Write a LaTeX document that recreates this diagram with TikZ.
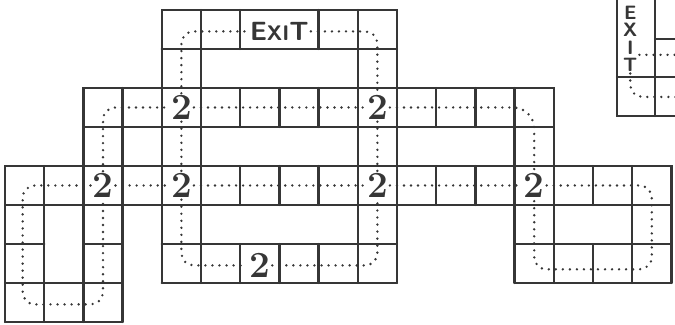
\documentclass[tikz,border=0pt]{standalone}
\usepackage{tikz}
\usepackage{xcolor}
\usetikzlibrary{positioning}
\definecolor{pencil}{HTML}{363636}

\tikzset{
  wall/.style={line width=1.3pt, pencil, line cap=round},
  trail/.style={line width=1.5pt, pencil, line cap=round, dash pattern=on 0pt off 4pt, rounded corners=7pt},
  two/.style={inner sep=1pt, text=pencil, font=\bfseries\fontsize{21}{21}\selectfont},
  exitsign/.style={inner sep=1pt, text=pencil, font=\sffamily\bfseries\fontsize{15}{15}\selectfont}
}

\begin{document}
\begin{tikzpicture}[x=0.784cm,y=-0.78cm]
\useasboundingbox (-0.128,-0.256) rectangle (17.092,8.077);

% top room
\draw[wall] (4,0) rectangle (10,2);
\draw[wall] (4,1)--(10,1);
\foreach \c in {5,6,8,9} \draw[wall] (\c,0)--(\c,1);
\draw[wall] (5,1)--(5,2);
\draw[wall] (9,1)--(9,2);

% second corridor
\draw[wall] (2,2) rectangle (14,3);
\foreach \c in {3,...,13} \draw[wall] (\c,2)--(\c,3);
\foreach \c in {2,3,4,5,9,10,13,14} \draw[wall] (\c,3)--(\c,4);

% long corridor
\draw[wall] (0,4) rectangle (17,5);
\foreach \c in {1,...,16} \draw[wall] (\c,4)--(\c,5);

% left block
\foreach \c in {0,...,3} \draw[wall] (\c,5)--(\c,8);
\draw[wall] (0,6)--(1,6);
\draw[wall] (2,6)--(3,6);
\draw[wall] (0,7)--(3,7);
\draw[wall] (0,8)--(3,8);

% middle room
\foreach \c in {4,5,9,10} \draw[wall] (\c,5)--(\c,7);
\foreach \c in {6,7,8} \draw[wall] (\c,6)--(\c,7);
\draw[wall] (4,6)--(10,6);
\draw[wall] (4,7)--(10,7);

% right block
\foreach \c in {13,14,16,17} \draw[wall] (\c,5)--(\c,7);
\draw[wall] (15,6)--(15,7);
\draw[wall] (13,6)--(17,6);
\draw[wall] (13,7)--(17,7);

% corner of the next board
\draw[wall] (15.61,-0.3)--(15.61,2.72)--(17.2,2.72);
\draw[wall] (16.58,-0.3)--(16.58,2.72);
\draw[wall] (16.58,0.74)--(17.2,0.74);
\draw[wall] (15.61,1.72)--(17.2,1.72);

\node[exitsign] (exitT) at (7,0.55) {E{\fontsize{12}{12}\selectfont XI}T};
\node[exitsign, align=center, font=\sffamily\bfseries\fontsize{11}{9.8}\selectfont] (exitR) at (15.95,0.74) {E\\X\\I\\T};

\node[two] (tA) at (4.5,2.5) {2};
\node[two] (tB) at (9.5,2.5) {2};
\node[two] (tC) at (2.5,4.5) {2};
\node[two] (tD) at (4.5,4.5) {2};
\node[two] (tE) at (9.5,4.5) {2};
\node[two] (tF) at (13.5,4.5) {2};
\node[two] (tG) at (6.5,6.55) {2};

\coordinate (cutA) at (17.15,1.15);
\coordinate (cutB) at (17.15,2.23);

% dotted routes
\draw[trail] (tA.north) |- (exitT.west);
\draw[trail] (exitT.east) -| (tB.north);
\draw[trail] (tC.north) |- (tA.west);
\draw[trail] (tA.east) -- (tB.west);
\draw[trail, rounded corners=12pt] (tB.east) -| (tF.north);
\draw[trail] (tA.south) -- (tD.north);
\draw[trail] (tB.south) -- (tE.north);
\draw[trail] (tC.east) -- (tD.west);
\draw[trail] (tD.east) -- (tE.west);
\draw[trail] (tE.east) -- (tF.west);
\draw[trail] (tC.west) -| (0.45,7.55) -| (tC.south);
\draw[trail] (tD.south) |- (tG.west);
\draw[trail] (tG.east) -| (tE.south);
\draw[trail] (tF.east) -| (16.5,6.65) -| (tF.south);
\draw[trail] (exitR.south) |- (cutB);
\draw[trail] (exitR.east |- cutA) -- (cutA);

\end{tikzpicture}
\end{document}
